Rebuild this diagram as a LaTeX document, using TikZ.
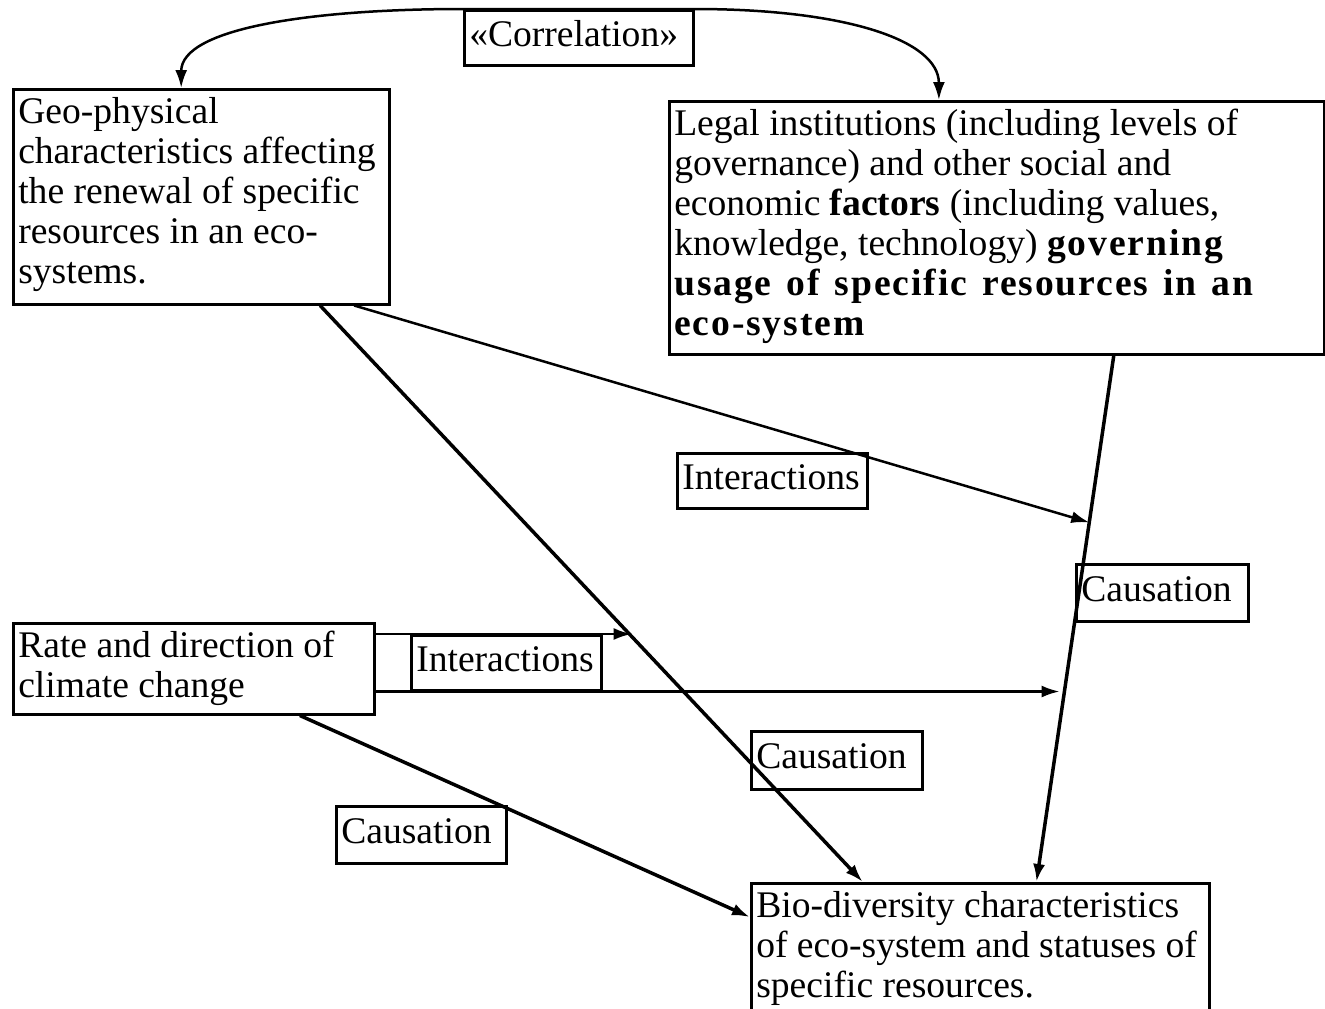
\documentclass[tikz,border=0pt]{standalone}
\usepackage{fontspec}
\setmainfont{Liberation Serif}
\usetikzlibrary{arrows.meta,calc}
\newcommand\bfwide[1]{{\bfseries\addfontfeature{LetterSpace=5}#1}}

\begin{document}
\begin{tikzpicture}[
    x=1pt, y=-1pt,
    >={Latex[length=18pt,width=12pt]},
    font=\fontsize{37.6}{40}\selectfont,
    box/.style={draw, line width=2.5pt, anchor=north west, inner xsep=5pt, inner ysep=8pt},
    lbl/.style={draw, line width=2.5pt, anchor=north west, inner xsep=5pt, inner ysep=5pt, text height=31pt, text depth=14pt, minimum height=55pt, align=left},
    link/.style={->, line width=2.5pt},
    cause/.style={->, line width=3.5pt}
  ]
  \useasboundingbox (0,0) rectangle (1325,1009);

  % Blocks
  \node[box] (geo) at (12,88) {\parbox[t][199pt][t]{366pt}{Geo-physical\\characteristics affecting\\the renewal of specific\\resources in an eco-\\systems.}};
  \node[box] (legal) at (668,100) {\parbox[t][237pt][t]{645pt}{Legal institutions (including levels of\\governance) and other social and\\economic \textbf{factors} (including values,\\knowledge, technology) \bfwide{governing}\\\makebox[579pt][s]{\bfwide{usage of specific resources in an}}\\\bfwide{eco-system}}};
  \node[box] (rate) at (12,622) {\parbox[t][75pt][t]{351pt}{Rate and direction of\\climate change}};
  \node[box] (bio) at (750,882) {\parbox[t][122pt][t]{448pt}{Bio-diversity characteristics\\of eco-system and statuses of\\specific resources.}};

  % Labels
  \node[lbl, text width=219pt, minimum height=54pt] (corr) at (463,9) {«Correlation»};
  \node[lbl, text width=180pt] (itop) at (676,452) {Interactions};
  \node[lbl, text width=180pt, minimum height=54pt] (imid) at (410,634) {Interactions};
  \node[lbl, text width=162pt, minimum height=57pt] (cright) at (1075,563) {Causation};
  \node[lbl, text width=161pt, minimum height=58pt] (cmid) at (750,730) {Causation};
  \node[lbl, text width=160pt, minimum height=57pt] (cleft) at (335,805) {Causation};

  % Anchor points
  \coordinate (geoB1) at ($(geo.south west)!0.814!(geo.south east)$);
  \coordinate (geoB2) at ($(geo.south west)!0.904!(geo.south east)$);
  \coordinate (legalB) at ($(legal.south west)!0.678!(legal.south east)$);
  \coordinate (rateB) at ($(rate.south west)!0.792!(rate.south east)$);
  \coordinate (bioT1) at ($(bio.north west)!0.245!(bio.north east)$);
  \coordinate (bioT2) at ($(bio.north west)!0.622!(bio.north east)$);
  \coordinate (bioW) at ($(bio.north west)!0.25!(bio.south west)$);
  \coordinate (hitGB) at ($(geoB1)!0.574!(bioT1)$);
  \coordinate (hitLB) at ($(legalB)!0.317!(bioT2)$);
  \coordinate (hitLB2) at ($(legalB)!0.636!(bioT2)$);

  % Connections
  \draw[<->, line width=2.5pt] ($(geo.north west)!0.447!(geo.north east)$) .. controls +(0,-60) and +(-150,0) .. (corr.north west) -- (corr.north east) .. controls +(150,0) and +(0,-60) .. ($(legal.north west)!0.412!(legal.north east)$);
  \draw[cause] (geoB1) -- (bioT1);
  \draw[cause] (legalB) -- (bioT2);
  \draw[cause] (rateB) -- (bioW);
  \draw[link] (geoB2) -- (hitLB);
  \draw[link] (rate.east |- imid.north) -- (imid.north -| hitGB);
  \draw[link] (rate.east |- imid.south) -- ([xshift=-5pt]imid.south -| hitLB2);
\end{tikzpicture}
\end{document}
